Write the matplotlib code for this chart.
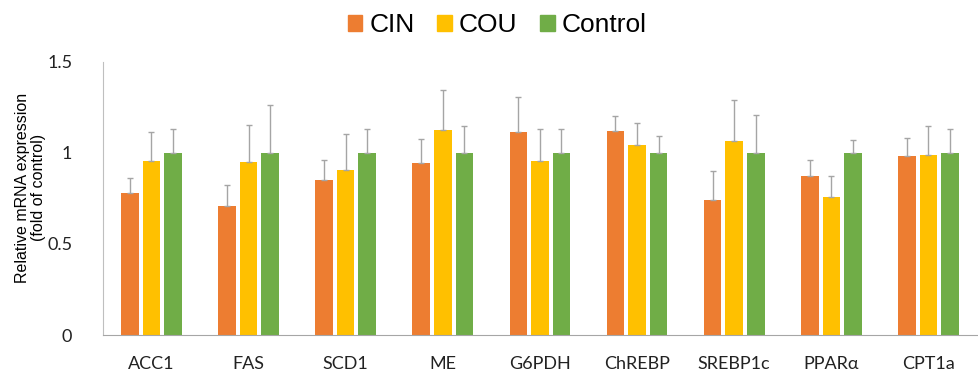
import numpy as np
import matplotlib.pyplot as plt
from matplotlib.patches import Patch

# genes on the x axis
genes = ['ACC1', 'FAS', 'SCD1', 'ME', 'G6PDH', 'ChREBP', 'SREBP1c', 'PPARα', 'CPT1a']

# mean fold of control
cin = [0.78, 0.71, 0.85, 0.945, 1.115, 1.12, 0.74, 0.875, 0.983]
cou = [0.954, 0.95, 0.908, 1.124, 0.954, 1.046, 1.066, 0.758, 0.989]
control = [1.0, 1.0, 1.0, 1.0, 1.0, 1.0, 1.0, 1.0, 1.0]

# upper error (SD)
cin_err = [0.08, 0.116, 0.11, 0.132, 0.191, 0.082, 0.163, 0.088, 0.099]
cou_err = [0.159, 0.202, 0.196, 0.224, 0.178, 0.119, 0.224, 0.113, 0.157]
control_err = [0.132, 0.264, 0.132, 0.146, 0.132, 0.093, 0.211, 0.071, 0.134]

colors = ['#ED7D31', '#FFC000', '#70AD47']
labels = ['CIN', 'COU', 'Control']

fig = plt.figure(figsize=(9.79, 3.71), dpi=100)
ax = fig.add_axes([0.105, 0.097, 0.893, 0.736])

x = np.arange(len(genes))
step = 0.222
width = 0.18
for i, (vals, errs) in enumerate(zip([cin, cou, control], [cin_err, cou_err, control_err])):
    pos = x + (i - 1) * step
    ax.bar(pos, vals, width, color=colors[i], zorder=2)
    ax.errorbar(pos, vals, yerr=[np.zeros(len(errs)), errs], fmt='none',
                ecolor='#A5A5A5', elinewidth=1, capsize=2, capthick=1, zorder=3)

ax.set_xlim(-0.5, len(genes) - 0.5)
ax.set_ylim(0, 1.5)
ax.set_yticks([0, 0.5, 1, 1.5])
ax.set_yticklabels(['0', '0.5', '1', '1.5'])
ax.set_xticks(x)
ax.set_xticklabels(genes)
ax.tick_params(axis='both', length=0, labelsize=13, colors='#222222')
ax.tick_params(axis='y', pad=22)
ax.tick_params(axis='x', pad=15)
for lab in ax.get_xticklabels() + ax.get_yticklabels():
    lab.set_family('Lato')

ax.spines['top'].set_visible(False)
ax.spines['right'].set_visible(False)
ax.spines['left'].set_color('#BFBFBF')
ax.spines['bottom'].set_color('#A6A6A6')

ax.set_ylabel('Relative mRNA expression\n(fold of control)', fontsize=11.5,
              family='Liberation Sans', linespacing=1.05, va='center')
ax.yaxis.set_label_coords(-0.083, 0.54)

handles = [Patch(color=c, label=l) for c, l in zip(colors, labels)]
fig.legend(handles=handles, loc='center', bbox_to_anchor=(0.508, 0.932), ncol=3,
           frameon=False, prop={'family': 'Liberation Sans', 'size': 19},
           handlelength=0.55, handleheight=0.55, handletextpad=0.27, columnspacing=0.87)

fig.savefig('out.png', dpi=100)
